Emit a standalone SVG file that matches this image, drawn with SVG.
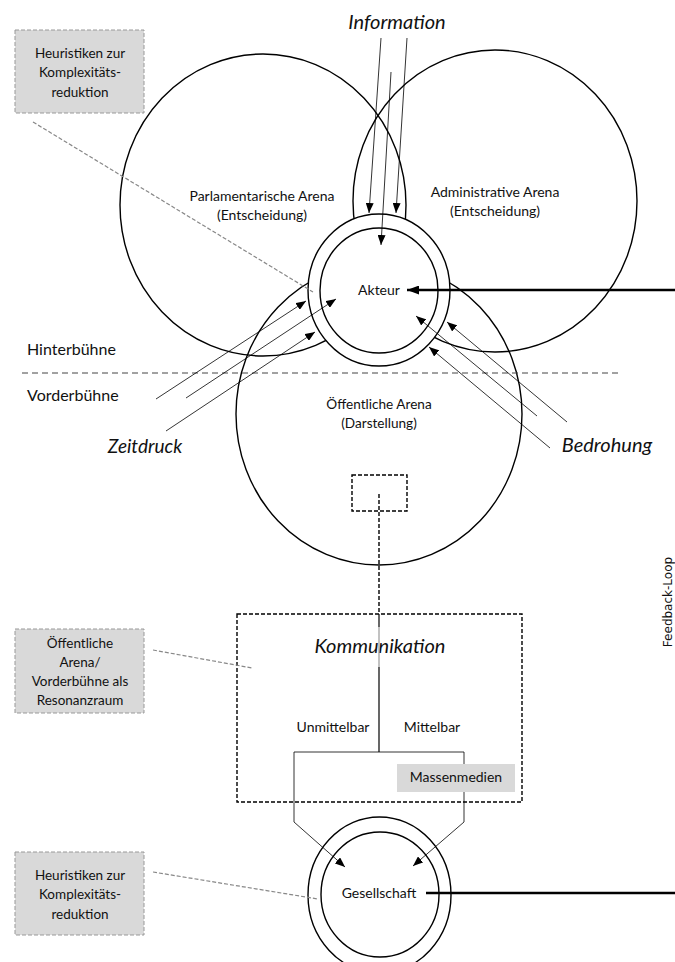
<svg xmlns="http://www.w3.org/2000/svg" width="675" height="962" viewBox="0 0 675 962">
<defs>
<style>
.t{font-family:Lato,"Open Sans","Liberation Sans",sans-serif;font-size:14px;fill:#111;text-anchor:middle}
.n{font-family:Lato,"Open Sans","Liberation Sans",sans-serif;font-size:13.5px;fill:#111;text-anchor:middle}
.it{font-family:Lato,"Open Sans","Liberation Sans",sans-serif;font-size:20px;font-style:italic;fill:#111;text-anchor:middle}
.big{fill:none;stroke:#000;stroke-width:1.4}
.ring{fill:#fff;stroke:#000;stroke-width:1.4}
.thin{fill:none;stroke:#000;stroke-width:0.8}
.thick{fill:none;stroke:#000;stroke-width:2.6}
.lead{fill:none;stroke:#888;stroke-width:1.2;stroke-dasharray:4 2}
.note{fill:#d9d9d9;stroke:#999;stroke-width:1;stroke-dasharray:4 2}
.dbox{fill:none;stroke:#000;stroke-width:1.4;stroke-dasharray:4 2}
</style>
<marker id="ah" markerUnits="userSpaceOnUse" markerWidth="10" markerHeight="8" refX="10" refY="4" orient="auto"><path d="M0,0 L10,4 L0,8 Z" fill="#000"/></marker>
<marker id="ahb" markerUnits="userSpaceOnUse" markerWidth="12" markerHeight="9" refX="12" refY="4.5" orient="auto"><path d="M0,0 L12,4.5 L0,9 Z" fill="#000"/></marker>
</defs>
<rect width="675" height="962" fill="#fff"/>

<g id="arenas">
<g id="parlamentarische-arena"><ellipse class="big" cx="263" cy="205" rx="143" ry="151"/>
<text class="t" x="262" y="201">Parlamentarische Arena</text><text class="t" x="262" y="220">(Entscheidung)</text></g>
<g id="administrative-arena"><ellipse class="big" cx="495" cy="201" rx="142" ry="151"/>
<text class="t" x="495" y="197">Administrative Arena</text><text class="t" x="495" y="216">(Entscheidung)</text></g>
<g id="oeffentliche-arena"><ellipse class="big" cx="379" cy="414" rx="143" ry="151"/>
<text class="t" x="379" y="409" style="font-size:13.6px">Öffentliche Arena</text><text class="t" x="379" y="428" style="font-size:13.6px">(Darstellung)</text>
<rect class="dbox" x="352" y="475" width="55" height="36"/></g>
</g>

<g id="buehne">
<line x1="22" y1="373" x2="618" y2="373" stroke="#444" stroke-width="1" stroke-dasharray="6 4"/>
<text class="t" x="27" y="355" style="text-anchor:start;font-size:16px">Hinterbühne</text>
<text class="t" x="27" y="401" style="text-anchor:start;font-size:16px">Vorderbühne</text>
</g>

<g id="akteur">
<ellipse class="ring" cx="379" cy="290" rx="71" ry="76"/>
<ellipse class="ring" cx="379" cy="290.5" rx="59" ry="62.5"/>
<text class="t" x="379" y="295">Akteur</text>
</g>

<g id="kommunikation">
<rect class="dbox" x="237" y="614" width="285" height="188"/>
<text class="it" x="380" y="653">Kommunikation</text>
<text class="t" x="333" y="732">Unmittelbar</text>
<text class="t" x="432" y="732">Mittelbar</text>
</g>

<g id="gesellschaft">
<ellipse class="ring" cx="379.5" cy="895" rx="71.5" ry="78"/>
<ellipse class="ring" cx="380" cy="894.5" rx="59" ry="62.5"/>
<text class="t" x="379" y="898">Gesellschaft</text>
</g>

<g id="notes">
<g id="note-heuristik-1"><rect class="note" x="15" y="30" width="129" height="83"/>
<text class="n" x="80" y="57.5">Heuristiken zur</text><text class="n" x="80" y="77">Komplexitäts-</text><text class="n" x="80" y="96.5">reduktion</text></g>
<g id="note-resonanz"><rect class="note" x="15" y="629" width="129" height="84"/>
<text class="n" x="80" y="648">Öffentliche</text><text class="n" x="80" y="667">Arena/</text><text class="n" x="80" y="686">Vorderbühne als</text><text class="n" x="80" y="705">Resonanzraum</text></g>
<g id="note-heuristik-2"><rect class="note" x="15" y="852" width="129" height="83"/>
<text class="n" x="80" y="879.5">Heuristiken zur</text><text class="n" x="80" y="899">Komplexitäts-</text><text class="n" x="80" y="918.5">reduktion</text></g>
</g>

<g id="labels">
<text class="it" x="397" y="29">Information</text>
<text class="it" x="145" y="453" style="font-size:19px">Zeitdruck</text>
<text class="it" x="607" y="452">Bedrohung</text>
<text x="0" y="0" transform="translate(672,602) rotate(-90)" style="font-family:'DejaVu Sans',sans-serif;font-size:12px;fill:#111;text-anchor:middle">Feedback-Loop</text>
</g>

<g id="connectors">
<line class="thin" x1="381" y1="38" x2="369" y2="213" marker-end="url(#ah)"/>
<line class="thin" x1="407" y1="38" x2="396" y2="213" marker-end="url(#ah)"/>
<line class="thin" x1="391" y1="72" x2="381" y2="245" marker-end="url(#ah)"/>
<line class="thin" x1="156" y1="399" x2="306" y2="301" marker-end="url(#ah)"/>
<line class="thin" x1="186" y1="398" x2="336" y2="299" marker-end="url(#ah)"/>
<line class="thin" x1="166" y1="431" x2="315" y2="332" marker-end="url(#ah)"/>
<line class="thin" x1="567" y1="422" x2="447" y2="322" marker-end="url(#ah)"/>
<line class="thin" x1="537" y1="416" x2="416" y2="316" marker-end="url(#ah)"/>
<line class="thin" x1="550" y1="448" x2="429" y2="347" marker-end="url(#ah)"/>
<line class="thick" x1="675" y1="290" x2="407" y2="290" marker-end="url(#ahb)"/>
<line class="lead" x1="33" y1="122" x2="313" y2="292"/>
<line class="lead" x1="153" y1="650" x2="252" y2="668"/>
<line class="lead" x1="153" y1="872" x2="318" y2="899"/>
<line x1="379" y1="494" x2="379" y2="614" stroke="#000" stroke-width="1.4" stroke-dasharray="4 2"/>
<line x1="379" y1="614" x2="379" y2="627" stroke="#000" stroke-width="1.2"/>
<line x1="379" y1="627" x2="379" y2="667" stroke="#999" stroke-width="1.2"/>
<line x1="379" y1="667" x2="379" y2="752" stroke="#000" stroke-width="1.2"/>
<polyline class="thin" points="294,752 464,752"/>
<polyline class="thin" points="294,752 294,822 345,867" marker-end="url(#ah)"/>
<polyline class="thin" points="464,752 464,822 413,866" marker-end="url(#ah)"/>
<line class="thick" x1="426" y1="893" x2="675" y2="893"/>
</g>

<g id="massenmedien">
<rect x="397" y="764" width="118" height="28" fill="#d9d9d9"/>
<text class="t" x="456" y="782">Massenmedien</text>
</g>
</svg>
